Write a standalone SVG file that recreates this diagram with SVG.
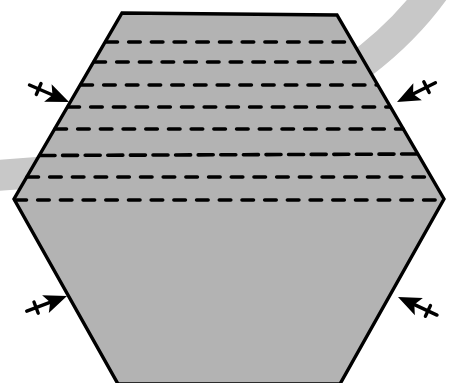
<svg xmlns="http://www.w3.org/2000/svg" xmlns:xlink="http://www.w3.org/1999/xlink" width="454" height="383" viewBox="0 0 454 383">
<style>
.band{fill:none;stroke:#c8c8c8;stroke-width:31}
.hex{fill:#b3b3b3;stroke:#000;stroke-width:3.4;stroke-linejoin:miter}
.dash{stroke:#000;stroke-width:3.6;stroke-linecap:round;stroke-dasharray:11.5 11.2;fill:none}
.shaft{stroke:#000;stroke-width:3.4;fill:none;stroke-linecap:round}
.head{fill:#000}
</style>
<defs>
<g id="arrow">
<line class="shaft" x1="-43" y1="0" x2="-14" y2="0"/>
<line class="shaft" x1="-33" y1="-6" x2="-33" y2="6"/>
<path class="head" d="M0,0 L-23,-9.5 L-18,0 L-23,9.5 Z"/>
</g>
</defs>
<path class="band" d="M-5,175.5 C200,165 360,100 440,-18"/>
<g id="hexagon">
<polygon class="hex" points="122,13 337,15 444,199 340,384 118,384 14,199"/>
<g id="dashes">
<line class="dash" x1="106" y1="42" x2="352" y2="42"/>
<line class="dash" x1="94" y1="62" x2="364" y2="62"/>
<line class="dash" x1="81" y1="85" x2="377" y2="85"/>
<line class="dash" x1="68" y1="107" x2="390" y2="107"/>
<line class="dash" x1="55" y1="129" x2="403" y2="129"/>
<line class="dash" x1="40" y1="155.5" x2="418" y2="154" style="stroke-dasharray:15 7.6"/>
<line class="dash" x1="27" y1="177" x2="431" y2="177"/>
<line class="dash" x1="15" y1="200" x2="443" y2="200"/>
</g>
</g>
<g id="connectors">
<use xlink:href="#arrow" transform="translate(69,102) rotate(23.2)"/>
<use xlink:href="#arrow" transform="translate(397,102) rotate(153.4)"/>
<use xlink:href="#arrow" transform="translate(67,296) rotate(-20.6)"/>
<use xlink:href="#arrow" transform="translate(398,297) rotate(204.9)"/>
</g>
</svg>
